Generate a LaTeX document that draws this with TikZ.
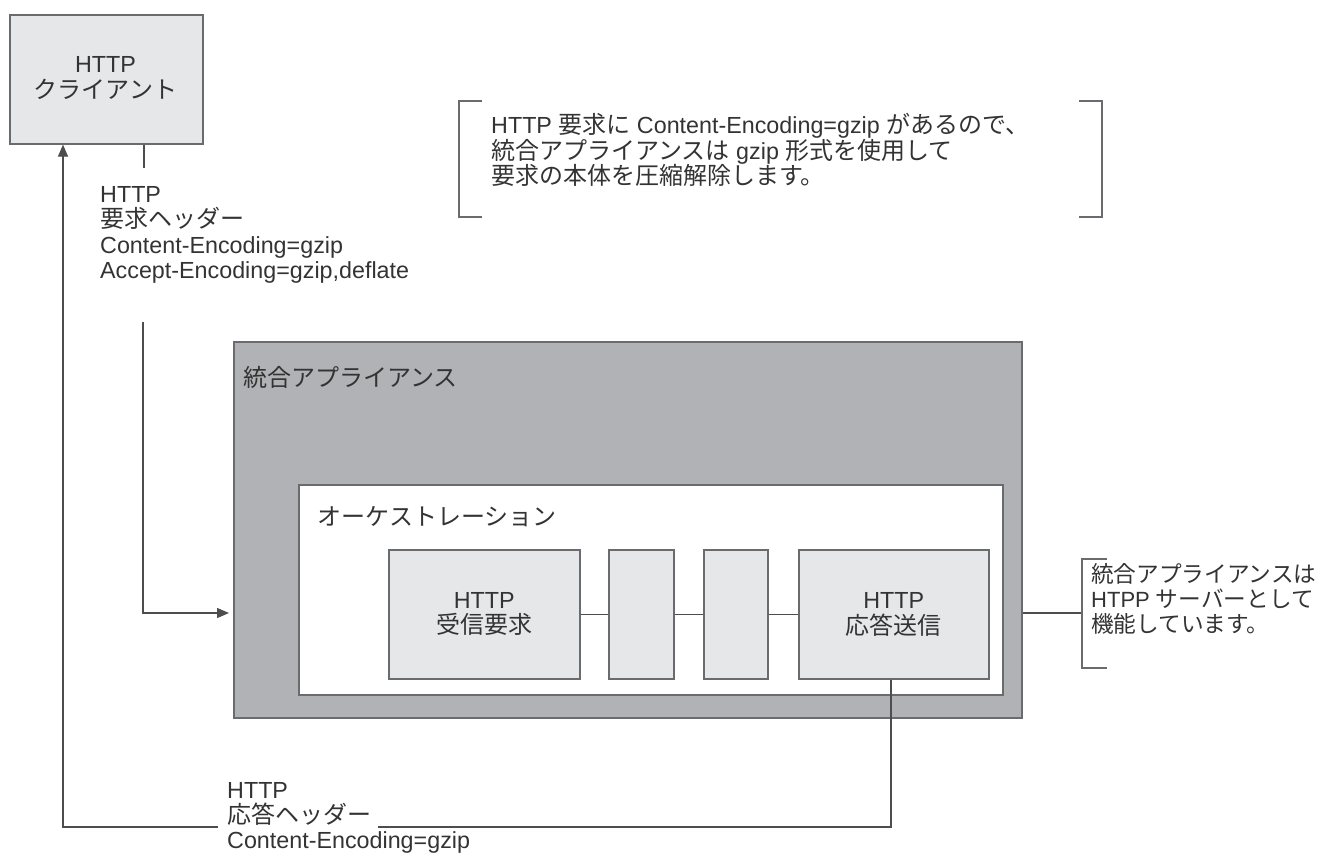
\documentclass[tikz,border=0pt]{standalone}
\usepackage{fontspec}
\setmainfont{Liberation Sans}
\newfontfamily\jp[Scale=1.03]{Noto Sans CJK JP}
\usetikzlibrary{arrows.meta,calc}
\definecolor{txt}{HTML}{333333}
\definecolor{lightfill}{HTML}{E6E7E8}
\definecolor{appfill}{HTML}{B1B2B5}
\definecolor{border}{HTML}{6A6B6E}
\definecolor{wire}{HTML}{4D4D4D}
\begin{document}
\begin{tikzpicture}[x=1pt,y=-1pt,
  lbl/.style={text=txt,inner sep=0pt,font=\fontsize{23.3}{25.3}\selectfont},
  boxstyle/.style={draw=border,line width=1.6pt,inner sep=0pt,anchor=north west,text=txt,align=center,font=\fontsize{23.3}{25.3}\selectfont},
  lightbox/.style={boxstyle,fill=lightfill},
  wirestyle/.style={draw=wire,line width=1.2pt},
  arrowtip/.style={-{Triangle[length=12pt,width=10pt]}},
  bracketstyle/.style={draw=border,line width=1.6pt}
]
\useasboundingbox (0,0) rectangle (1326,852);

% boxes
\node[lightbox,minimum width=193pt,minimum height=129pt] (client) at (9,14) {};
\node[lbl,align=center] (clientlbl) at (105.5,78) {HTTP\\{\jp クライアント}};

\node[boxstyle,fill=appfill,minimum width=788pt,minimum height=376pt] (app) at (233,341) {};
\node[lbl,anchor=west] (applbl) at (243,377) {\jp 統合アプライアンス};

\node[boxstyle,fill=white,minimum width=704pt,minimum height=210pt] (orch) at (298,484) {};
\node[lbl,anchor=west] (orchlbl) at (317,517) {\jp オーケストレーション};

\node[lightbox,minimum width=191pt,minimum height=129pt] (b1) at (388,549) {};
\node[lightbox,minimum width=65pt,minimum height=129pt] (b2) at (608,549) {};
\node[lightbox,minimum width=64pt,minimum height=129pt] (b3) at (703,549) {};
\node[lightbox,minimum width=190pt,minimum height=129pt] (b4) at (798,549) {};
\node[lbl,align=center] (b1lbl) at (b1.center) {HTTP\\{\jp 受信要求}};
\node[lbl,align=center] (b4lbl) at (b4.center) {HTTP\\{\jp 応答送信}};

% chain connectors
\draw[wirestyle] (b1.east) -- (b2.west);
\draw[wirestyle] (b2.east) -- (b3.west);
\draw[wirestyle] (b3.east) -- (b4.west);

% request header text and connector
\node[lbl,anchor=west,align=left] (reqhdr) at (100,235) {HTTP\\{\jp 要求ヘッダー}\\Content-Encoding=gzip\\Accept-Encoding=gzip,deflate};
\coordinate (rqtick) at (144,168);
\coordinate (rqstart) at (143,322);
\coordinate (row) at (0,613);
\draw[wirestyle] (rqtick |- client.south) -- (rqtick);
\draw[wirestyle,arrowtip,shorten >=4pt] (rqstart) |- (row -| app.west);

% response
\node[lbl,anchor=west,align=left] (resphdr) at (227,818) {HTTP\\{\jp 応答ヘッダー}\\Content-Encoding=gzip};
\coordinate (gapR) at (378,827);
\coordinate (gapL) at (218,827);
\coordinate (retx) at (63,827);
\draw[wirestyle] (b4.south -| 891,0) |- (gapR);
\draw[wirestyle,arrowtip] (gapL) -- (retx) -- (retx |- client.south);

% top note
\node[lbl,anchor=west,align=left] (note) at (491,150) {HTTP {\jp 要求に} Content-Encoding=gzip {\jp があるので、}\\{\jp 統合アプライアンスは} gzip {\jp 形式を使用して}\\{\jp 要求の本体を圧縮解除します。}};
\draw[bracketstyle] (482,101) -- (459,101) -- (459,217) -- (482,217);
\draw[bracketstyle] (1079,101) -- (1102,101) -- (1102,217) -- (1079,217);

% right note
\node[lbl,anchor=west,align=left,font=\fontsize{22}{25.3}\selectfont] (srvnote) at (1091,599) {{\jp 統合アプライアンスは}\\HTPP {\jp サーバーとして}\\{\jp 機能しています。}};
\coordinate (brk) at (1082,613);
\draw[wirestyle] (app.east |- row) -- (brk);
\draw[bracketstyle,line width=1.2pt] (1107,559) -- (1082,559) -- (1082,668) -- (1107,668);
\end{tikzpicture}
\end{document}
